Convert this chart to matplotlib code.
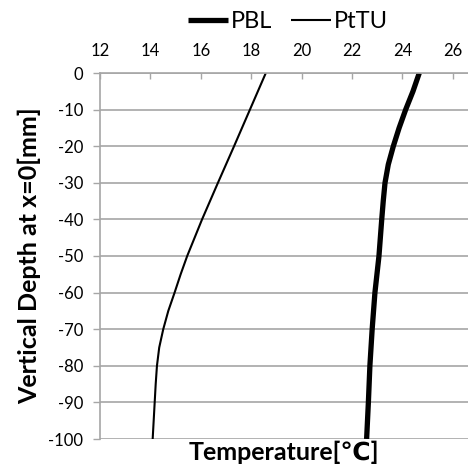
import matplotlib
matplotlib.use('Agg')
import matplotlib.pyplot as plt

plt.rcParams['font.family'] = ['Lato', 'DejaVu Sans']
plt.rcParams['axes.unicode_minus'] = False

pbl_depth = [0, -5, -10, -15, -20, -25, -30, -35, -40, -50, -60, -70, -80, -90, -100]
pbl = [24.67, 24.42, 24.13, 23.87, 23.64, 23.44, 23.31, 23.24, 23.18, 23.07, 22.91, 22.80, 22.71, 22.65, 22.58]

pttu_depth = [0, -10, -20, -30, -40, -50, -55, -60, -65, -70, -75, -80, -85, -90, -100]
pttu = [18.58, 17.95, 17.32, 16.68, 16.05, 15.46, 15.20, 14.96, 14.71, 14.51, 14.35, 14.26, 14.21, 14.17, 14.09]

x_ticks = [12, 14, 16, 18, 20, 22, 24, 26]
y_ticks = [0, -10, -20, -30, -40, -50, -60, -70, -80, -90, -100]

grid_color = '#a6a6a6'

fig = plt.figure(figsize=(4.68, 4.71), dpi=100)
ax = fig.add_axes([100/468, 1 - 439/471, 1 - 100/468, (439 - 73)/471])

ax.plot(pbl, pbl_depth, color='black', lw=3.8, label='PBL',
        solid_capstyle='butt', solid_joinstyle='round')
ax.plot(pttu, pttu_depth, color='black', lw=1.5, label='PtTU',
        solid_capstyle='butt', solid_joinstyle='round')

ax.set_xlim(12, 12 + (468 - 100) / 25.2)
ax.set_ylim(-100, 0)
ax.set_xticks(x_ticks)
ax.set_yticks(y_ticks)

ax.xaxis.tick_top()
ax.tick_params(axis='x', direction='in', length=4, width=1, color=grid_color,
               labelsize=12, pad=10)
ax.tick_params(axis='y', direction='out', length=5, width=1, color=grid_color,
               labelsize=12, pad=7)
ax.yaxis.grid(True, color=grid_color, lw=1.2)
ax.set_axisbelow(True)

for side in ['right', 'bottom']:
    ax.spines[side].set_visible(False)
ax.spines['top'].set_color(grid_color)
ax.spines['top'].set_linewidth(1.2)
ax.spines['left'].set_color(grid_color)
ax.spines['left'].set_linewidth(1.2)

ax.xaxis.set_label_position('bottom')
ax.set_xlabel('Temperature[℃]', fontsize=18, fontweight='bold', labelpad=1)
ax.set_ylabel('Vertical Depth at x=0[mm]', fontsize=18, fontweight='bold', labelpad=5)

fig.legend(loc='center', bbox_to_anchor=(288/468, 1 - 22/471), ncol=2, frameon=False,
           fontsize=17, handlelength=1.7, handletextpad=0.1, columnspacing=0.8,
           borderpad=0)

fig.savefig('out.png', dpi=100)
